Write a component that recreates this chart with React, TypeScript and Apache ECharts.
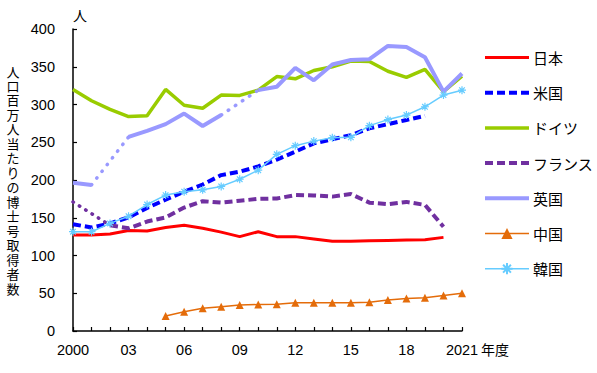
import React, { useEffect, useRef } from "react";
import * as echarts from "echarts";

const years = [
  "2000","2001","2002","2003","2004","2005","2006","2007","2008","2009","2010",
  "2011","2012","2013","2014","2015","2016","2017","2018","2019","2020","2021",
];
const tickLabels = ["2000", "03", "06", "09", "12", "15", "18", "2021"];

const japan = [127,127,128.5,133,132.5,137,140,136,131,125,131.5,125,125,122,119,119,119.5,120,120.5,121,124,null];
const usa = [141.5,137,142.5,150.5,163,174,184.5,194,206.5,211,218,227,237.5,248.5,254,259.5,268.5,274,279.5,285,null,null];
const germany = [320,305,293.5,284,285,320,299,295,312.5,312,319,337,334,345,350,357.5,357,344,336,346.5,317,337.5];
const france = [171,null,140,136,145,150.5,163.5,172,170,172.5,175,175.5,180,179.5,178,181.5,170,168,171,167,138,null];
const uk = [196.5,193.5,null,257,265,274,288,271.5,286,null,319,323.5,348.5,332,353,359,360,377.5,376,362.5,317,341];
const china = [null,null,null,null,null,20,25.5,30,32,34.5,35,35.5,37.5,37.5,37.5,37.5,38,41,43,44,47,50];
const korea = [131.5,131.5,142.5,152,167.5,180,184.5,187,191.5,201,213,234,245.5,251.5,256,256.5,272,280,286,297,312.5,319];

const names = ["日本", "米国", "ドイツ", "フランス", "英国", "中国", "韓国"];
const withMarker = ["中国", "韓国"];
const yTitle = "人口百万人当たりの博士号取得者数";

// dotted bridge across a missing year: keep only the two known endpoints
function bridge(values: (number | null)[], from: number, to: number) {
  return values.map((v, i) => (i === from || i === to ? v : null));
}

const C = {
  japan: "#ff0000",
  usa: "#0000ff",
  germany: "#99cc00",
  france: "#7030a0",
  uk: "#9999ff",
  china: "#e46c0a",
  korea: "#66ccff",
};

export default function App() {
  const ref = useRef<HTMLDivElement>(null);
  useEffect(() => {
    if (!ref.current) return;
    const chart = echarts.init(ref.current, null, { renderer: "svg" });
    const jp = '"Noto Sans CJK JP", sans-serif';
    const num = '"Liberation Sans", Arial, sans-serif';
    const base = { type: "line", symbol: "none", connectNulls: false, z: 2 };
    const titleChars = yTitle.split("").map((ch, i) => ({
      type: "text",
      x: 13,
      y: 71 + i * 14.47,
      style: {
        text: ch,
        fontSize: 13,
        lineHeight: 14,
        fontFamily: jp,
        fill: "#000",
        align: "center",
        verticalAlign: "middle",
      },
    }));
    const option: any = {
      animation: false,
      backgroundColor: "#ffffff",
      grid: { left: 73, right: 135, top: 29, bottom: 42, containLabel: false },
      xAxis: {
        type: "category",
        data: years,
        boundaryGap: false,
        axisLine: { lineStyle: { color: "#000", width: 1.5 } },
        axisTick: { inside: true, length: 4, interval: 0, lineStyle: { color: "#000", width: 1.2 } },
        axisLabel: {
          interval: 0,
          margin: 11,
          fontSize: 14.5,
          fontFamily: num,
          color: "#000",
          formatter: (_v: string, i: number) => (i % 3 === 0 ? tickLabels[i / 3] : ""),
        },
        splitLine: { show: false },
      },
      yAxis: {
        type: "value",
        min: 0,
        max: 400,
        interval: 50,
        axisLine: { show: true, lineStyle: { color: "#000", width: 1.5 } },
        axisTick: { show: true, inside: true, length: 4, lineStyle: { color: "#000", width: 1.2 } },
        axisLabel: { margin: 18, fontSize: 14.5, fontFamily: num, color: "#000" },
        splitLine: { show: false },
      },
      legend: {
        data: names.map((n) =>
          withMarker.includes(n) ? { name: n } : { name: n, itemStyle: { opacity: 0 } }
        ),
        orient: "vertical",
        left: 483,
        top: 50,
        padding: 0,
        itemWidth: 44,
        itemHeight: 14,
        itemGap: 20.2,
        textStyle: { fontSize: 15, fontFamily: jp, color: "#000", padding: [0, 0, 0, -1] },
        lineStyle: { width: "inherit" },
      },
      graphic: [
        ...titleChars,
        {
          type: "text",
          x: 80,
          y: 15,
          style: { text: "人", fontSize: 14, fontFamily: jp, fill: "#000", align: "center", verticalAlign: "middle" },
        },
        {
          type: "text",
          x: 481,
          y: 349,
          style: { text: "年度", fontSize: 14, fontFamily: jp, fill: "#000", align: "left", verticalAlign: "middle" },
        },
      ],
      series: [
        { ...base, name: "日本", data: japan, color: C.japan, lineStyle: { color: C.japan, width: 3 } },
        { ...base, name: "米国", data: usa, color: C.usa, lineStyle: { color: C.usa, width: 4, type: [8, 4] } },
        { ...base, name: "ドイツ", data: germany, color: C.germany, lineStyle: { color: C.germany, width: 3.5 } },
        { ...base, name: "フランス", data: france, color: C.france, lineStyle: { color: C.france, width: 4, type: [8, 4] } },
        { ...base, name: "フランス_dot", data: bridge(france, 0, 2), connectNulls: true, color: C.france, lineStyle: { color: C.france, width: 3.5, type: [0.5, 7], cap: "round" } },
        { ...base, name: "英国", data: uk, color: C.uk, lineStyle: { color: C.uk, width: 4 } },
        { ...base, name: "英国_dot1", data: bridge(uk, 1, 3), connectNulls: true, color: C.uk, lineStyle: { color: C.uk, width: 3.5, type: [0.5, 8], cap: "round" } },
        { ...base, name: "英国_dot2", data: bridge(uk, 8, 10), connectNulls: true, color: C.uk, lineStyle: { color: C.uk, width: 3.5, type: [0.5, 8], cap: "round" } },
        {
          ...base,
          name: "中国",
          data: china,
          symbol: "triangle",
          symbolSize: 8,
          color: C.china,
          itemStyle: { color: C.china },
          lineStyle: { color: C.china, width: 1.5 },
        },
        {
          ...base,
          name: "韓国",
          data: korea,
          symbol: "path://M5,0L5,10M0,5L10,5M1.5,1.5L8.5,8.5M8.5,1.5L1.5,8.5",
          symbolSize: 8,
          color: C.korea,
          itemStyle: { color: C.korea, borderColor: C.korea, borderWidth: 1.2 },
          lineStyle: { color: C.korea, width: 1.5 },
        },
      ],
    };
    chart.setOption(option);
    return () => chart.dispose();
  }, []);
  return (
    <div
      ref={ref}
      style={{ position: "fixed", left: 0, top: 0, width: 597, height: 373, background: "#fff" }}
    />
  );
}
